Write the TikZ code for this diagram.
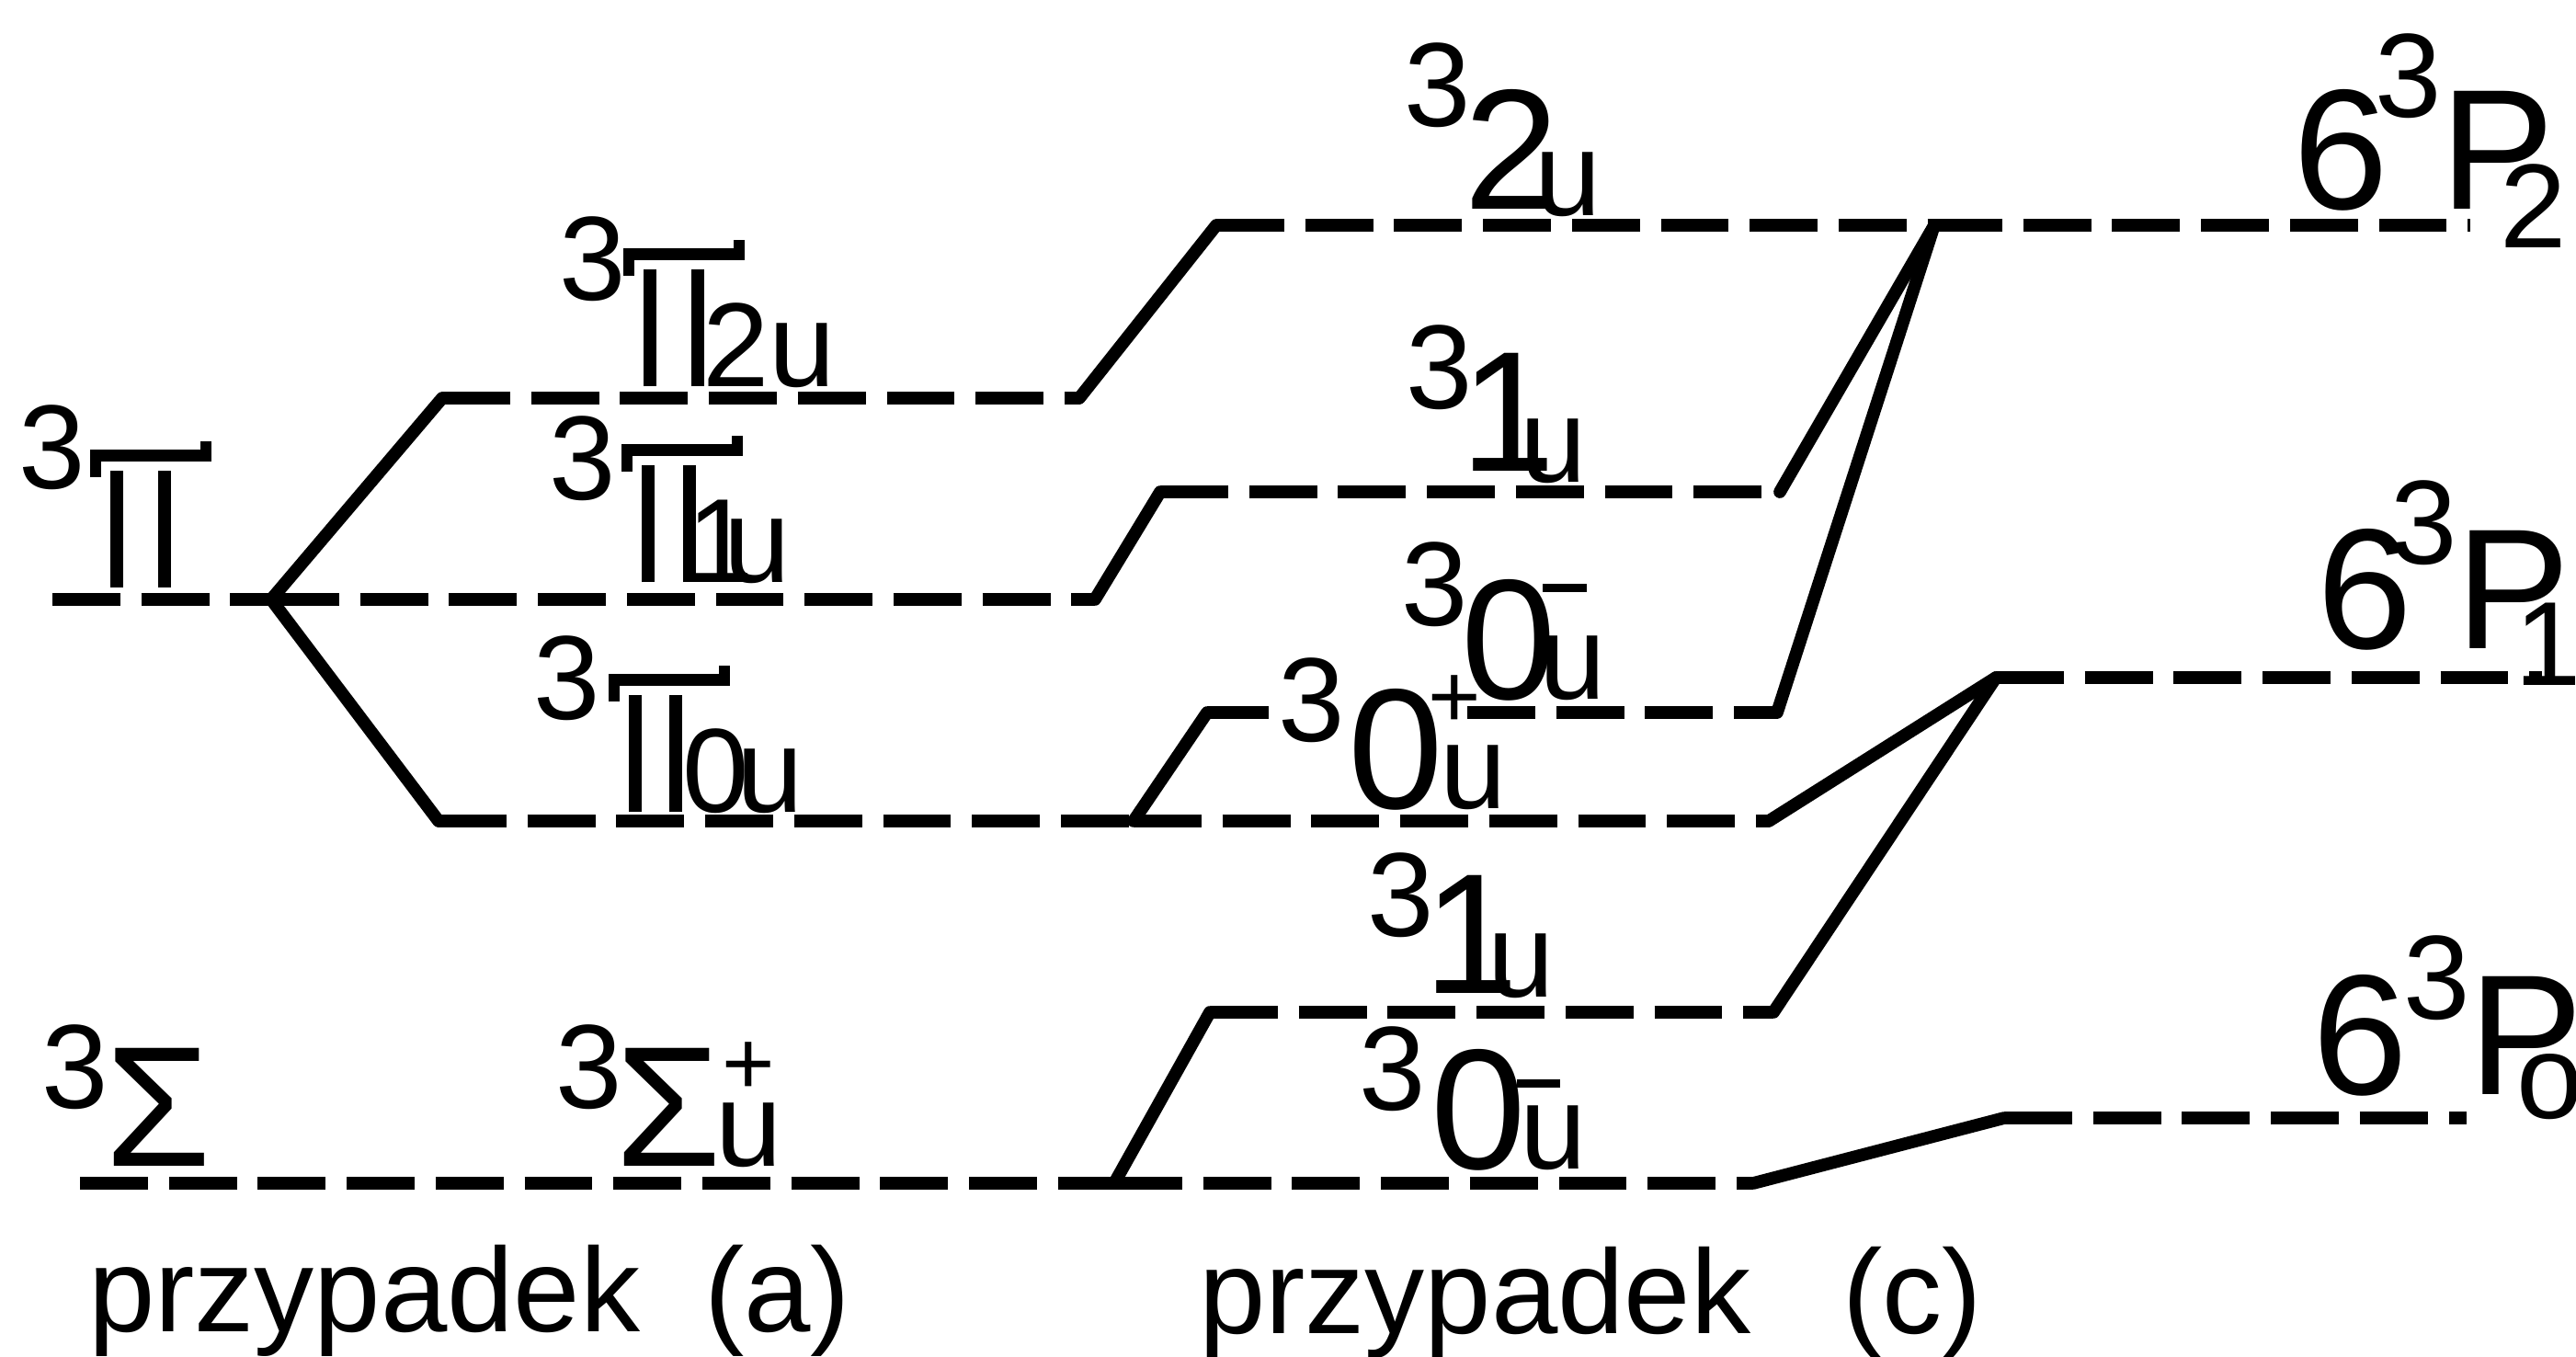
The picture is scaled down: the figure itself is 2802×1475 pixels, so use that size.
\documentclass[tikz,border=0pt]{standalone}
\usepackage{fontspec}
\setmainfont{Liberation Sans}
\usepackage{graphicx}
\newdimen\pxu \pxu=0.01cm
\newcommand\fntL{\fontsize{53pt}{60pt}\selectfont}
\newcommand\fntS{\fontsize{37pt}{42pt}\selectfont}
\newcommand\fntP{\fontsize{28pt}{32pt}\selectfont}
\newcommand\gp[3]{\makebox[#1\pxu][l]{\raisebox{#2\pxu}{#3}}}
% stylised capital Pi: two stems and a wider, hooked top bar
\newcommand\PiC[1]{%
  \rlap{\hspace*{-22\pxu}\raisebox{137\pxu}{\rule{132\pxu}{13\pxu}}}%
  \rlap{\hspace*{-22\pxu}\raisebox{120\pxu}{\rule{12\pxu}{28\pxu}}}%
  \rlap{\hspace*{98\pxu}\raisebox{142\pxu}{\rule{12\pxu}{17\pxu}}}%
  \rule{14\pxu}{127\pxu}\hspace{\dimexpr#1\pxu-28\pxu\relax}\rule{14\pxu}{127\pxu}}
\tikzset{
  lvl/.style={line width=3.9pt, dash pattern=on 21pt off 6.5pt},
  link/.style={line width=3.9pt, line cap=round, line join=round},
  lbl/.style={anchor=base west, inner sep=0pt, outer sep=0pt}
}
\begin{document}
\begin{tikzpicture}[x=0.01cm, y=-0.01cm]
\useasboundingbox (0,0) rectangle (2802,1475);

% ---- coordinates: case (a)
\coordinate (pi0) at (57,652);
\coordinate (S)   at (295,652);
\coordinate (a2)  at (481,433);
\coordinate (a2e) at (1174,433);
\coordinate (a1e) at (1191,652);
\coordinate (a0)  at (477,893);
\coordinate (a0e) at (1233,893);
\coordinate (sg0) at (87,1287);
\coordinate (sge) at (1212,1287);
% ---- coordinates: case (c)
\coordinate (c2)   at (1323,245);
\coordinate (J2)   at (2104,245);
\coordinate (P2e)  at (2687,245);
\coordinate (c1)   at (1262,535);
\coordinate (c1e)  at (1936,535);
\coordinate (c0m)  at (1313,775);
\coordinate (c0mA) at (1380,775);
\coordinate (c0mB) at (1596,775);
\coordinate (c0me) at (1933,775);
\coordinate (c0pe) at (1924,893);
\coordinate (J1)   at (2171,737);
\coordinate (P1e)  at (2765,737);
\coordinate (d1)   at (1316,1101);
\coordinate (d1e)  at (1929,1101);
\coordinate (d0e)  at (1907,1287);
\coordinate (J0)   at (2180,1216);
\coordinate (P0e)  at (2683,1216);

% ---- levels and connectors, case (a)
\draw[lvl] (pi0) -- (S);
\draw[link] (S) -- (a2);
\draw[link] (S) -- (a0);
\draw[lvl] (S) -- (a1e);
\draw[lvl] (a2) -- (a2e);
\draw[lvl] (a0) -- (a0e);
\draw[lvl] (sg0) -- (sge);

% ---- case (c)
\draw[link] (a2e) -- (c2);
\draw[lvl] (c2) -- (J2);
\draw[lvl] (J2) -- (P2e);

\draw[link] (a1e) -- (c1);
\draw[lvl] (c1) -- (c1e);
\draw[link] (c1e) -- (J2);

\draw[link] (a0e) -- (c0m);
\draw[lvl] (c0m) -- (c0mA);
\draw[lvl] (c0mB) -- (c0me);
\draw[link] (c0me) -- (J2);

\draw[lvl] (a0e) -- (c0pe);
\draw[link] (c0pe) -- (J1);
\draw[lvl] (J1) -- (P1e);

\draw[link] (sge) -- (d1);
\draw[lvl] (d1) -- (d1e);
\draw[link] (d1e) -- (J1);

\draw[lvl] (sge) -- (d0e);
\draw[link] (d0e) -- (J0);
\draw[lvl] (J0) -- (P0e);

% ---- labels, case (a)
\node[lbl] (tPi)  at (21,639)  {\gp{99}{108}{\fntS 3}\PiC{66}};
\node[lbl] (tPi2) at (608,420) {\gp{92}{94}{\fntS 3}\gp{64}{0}{\PiC{66}}{\fntS 2u}};
\node[lbl] (tPi1) at (597,633) {\gp{101}{90}{\fntS 3}\gp{49}{0}{\PiC{59}}\gp{41}{0}{\fntS 1}{\fntS u}};
\node[lbl] (tPi0) at (580,883) {\gp{104}{101}{\fntS 3}\gp{58}{0}{\PiC{58}}\gp{60}{0}{\fntS 0}{\fntS u}};
\node[lbl] (tSg)  at (45,1268) {\gp{69}{63}{\fntS 3}{\fntL Σ}};
\node[lbl] (tSgu) at (604,1268) {\gp{65}{63}{\fntS 3}\gp{109}{0}{\fntL Σ}\rlap{\hspace{7\pxu}\raisebox{77.5\pxu}{\fntP +}}{\fntS u}};

% ---- labels, case (c)
\node[lbl] (t2u)  at (1527,227) {\gp{65}{90}{\fntS 3}\gp{77}{0}{\fntL 2}\raisebox{-7\pxu}{\fntS u}};
\node[lbl] (t1u)  at (1529,512) {\gp{59}{68}{\fntS 3}\gp{65}{0}{\fntL 1}\raisebox{-12\pxu}{\fntS u}};
\node[lbl] (t0mu) at (1524,760) {\gp{65}{80}{\fntS 3}\gp{85}{0}{\fntL 0}\rlap{\hspace{4\pxu}\raisebox{116\pxu}{\rule{48\pxu}{9\pxu}}}{\fntS u}};
\node[lbl] (t0pu) at (1390,879) {\gp{76}{73}{\fntS 3}\gp{87}{0}{\fntL 0}\rlap{\raisebox{87.5\pxu}{\fntP +}}\hspace{13\pxu}{\fntS u}};
\node[lbl] (t1l)  at (1487,1080) {\gp{61}{62}{\fntS 3}\gp{70}{0}{\fntL 1}\raisebox{-4\pxu}{\fntS u}};
\node[lbl] (t0ml) at (1478,1271) {\gp{78}{64}{\fntS 3}\gp{94}{0}{\fntL 0}\rlap{\raisebox{88\pxu}{\rule{47\pxu}{9\pxu}}}\hspace{3\pxu}{\fntS u}};

% ---- atomic terms
\node[lbl] (tP2) at (2494,227)  {\gp{89}{0}{\fntL 6}\gp{71}{100}{\fntS 3}\gp{65}{0}{\fntL P}\raisebox{-42\pxu}{\fntS 2}};
\node[lbl] (tP1) at (2520,705)  {\gp{80}{0}{\fntL 6}\gp{71}{92}{\fntS 3}\gp{64}{0}{\fntL P}\raisebox{-40\pxu}{\fntS 1}};
\node[lbl] (tP0) at (2515,1190) {\gp{99}{0}{\fntL 6}\gp{71}{82}{\fntS 3}\gp{52}{0}{\fntL P}\raisebox{-26\pxu}{\fntS o}};

% ---- captions
\node[lbl] (capA) at (96,1448)   {\fntS przypadek\hspace{70\pxu}(a)};
\node[lbl] (capC) at (1304,1450) {\fntS przypadek\hspace{100\pxu}(c)};
\end{tikzpicture}
\end{document}
